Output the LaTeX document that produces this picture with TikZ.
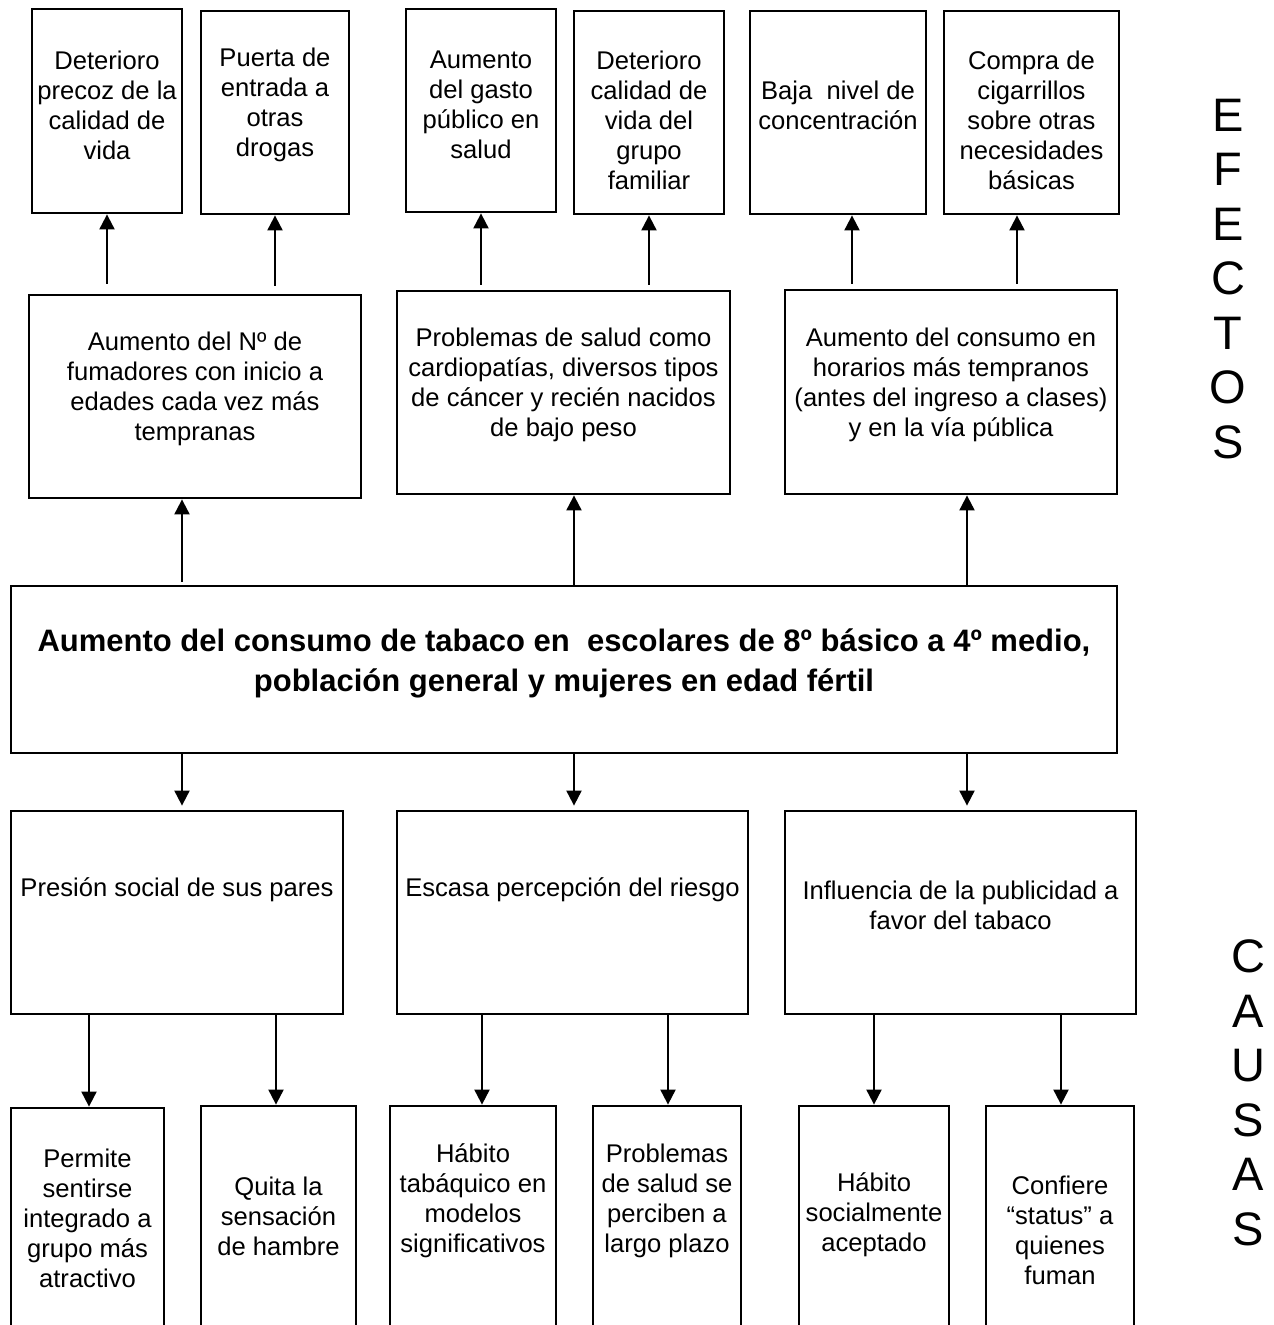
\documentclass[tikz,border=0pt]{standalone}
\usepackage{fontspec}
\setmainfont{Liberation Sans}
\usetikzlibrary{arrows.meta}
\newcommand\mybox[5]{\node[box, minimum width=#4pt, minimum height=#5pt] (#1) at (#2,#3) {};}
\begin{document}
\begin{tikzpicture}[x=1pt,y=-1pt,
  box/.style={draw, line width=2.8pt, inner sep=0pt},
  txt/.style={align=center, inner sep=0pt, font=\fontsize{25.6}{30}\selectfont},
  bigtxt/.style={align=center, inner sep=0pt, font=\bfseries\fontsize{31}{40}\selectfont},
  side/.style={align=center, inner sep=0pt, font=\fontsize{47}{54.5}\selectfont},
  arr/.style={line width=2pt, -{Triangle[length=15pt,width=15pt]}},
  ]
\useasboundingbox (0,0) rectangle (1274,1325);
\fill[white] (0,0) rectangle (1274,1325);
\clip (0,0) rectangle (1274,1325);

% top effects
\mybox{T1}{107}{111}{150}{204}
\mybox{T2}{275}{112.5}{148}{203}
\mybox{T3}{481}{110.5}{150}{203}
\mybox{T4}{649}{112.5}{150}{203}
\mybox{T5}{838}{112.5}{176}{203}
\mybox{T6}{1031.5}{112.5}{175}{203}
\node[txt] (T1t) at (107,105) {Deterioro\\precoz de la\\calidad de\\vida};
\node[txt] (T2t) at (275,105) {Puerta de\\entrada a\\otras\\drogas};
\node[txt] (T3t) at (481,105) {Aumento\\del gasto\\público en\\salud};
\node[txt] (T4t) at (649,120) {Deterioro\\calidad de\\vida del\\grupo\\familiar};
\node[txt] (T5t) at (838,105) {Baja\ \ nivel de\\concentración};
\node[txt] (T6t) at (1031.5,120) {Compra de\\cigarrillos\\sobre otras\\necesidades\\básicas};

% middle effects
\mybox{mA}{195}{396.5}{332}{203}
\mybox{mB}{563.5}{392.5}{333}{203}
\mybox{mC}{951}{392}{332}{204}
\node[txt] (mAt) at (195,389) {Aumento del Nº de\\fumadores con inicio a\\edades cada vez más\\tempranas};
\node[txt] (mBt) at (563.5,385) {Problemas de salud como\\cardiopatías, diversos tipos\\de cáncer y recién nacidos\\de bajo peso};
\node[txt] (mCt) at (951,385) {Aumento del consumo en\\horarios más tempranos\\(antes del ingreso a clases)\\y en la vía pública};

% central problem
\mybox{ctr}{564}{669.5}{1106}{167}
\node[bigtxt] (ctrt) at (564,663) {Aumento del consumo de tabaco en\ \ escolares de 8º básico a 4º medio,\\población general y mujeres en edad fértil};

% causes
\mybox{cA}{177}{912.5}{332}{203}
\mybox{cB}{572.5}{912.5}{351}{203}
\mybox{cC}{960.5}{912.5}{351}{203}
\node[txt] (cAt) at (177,890) {Presión social de sus pares};
\node[txt] (cBt) at (572.5,890) {Escasa percepción del riesgo};
\node[txt] (cCt) at (960.5,905) {Influencia de la publicidad a\\favor del tabaco};

% bottom causes
\mybox{b1}{87.5}{1254}{153}{292}
\mybox{b2}{278.5}{1253}{155}{294}
\mybox{b3}{473}{1253}{166}{294}
\mybox{b4}{667}{1253}{148}{294}
\mybox{b5}{874}{1253}{150}{294}
\mybox{b6}{1060}{1253}{148}{294}
\node[txt] (b1t) at (87.5,1218) {Permite\\sentirse\\integrado a\\grupo más\\atractivo};
\node[txt] (b2t) at (278.5,1216) {Quita la\\sensación\\de hambre};
\node[txt] (b3t) at (473,1201) {Hábito\\tabáquico en\\modelos\\significativos};
\node[txt] (b4t) at (667,1201) {Problemas\\de salud se\\perciben a\\largo plazo};
\node[txt] (b5t) at (874,1215) {Hábito\\socialmente\\aceptado};
\node[txt] (b6t) at (1060,1230) {Confiere\\“status” a\\quienes\\fuman};

% side labels
\node[side] (efectos) at (1228,279) {E\\F\\E\\C\\T\\O\\S};
\node[side] (causas) at (1248,1093) {C\\A\\U\\S\\A\\S};

% arrows: middle effects -> top effects
\draw[arr] ([yshift=10pt]mA.north -| 107,0) -- (T1.south -| 107,0);
\draw[arr] ([yshift=8pt]mA.north -| 275,0) -- (T2.south -| 275,0);
\draw[arr] ([yshift=5pt]mB.north -| 481,0) -- (T3.south -| 481,0);
\draw[arr] ([yshift=5pt]mB.north -| 649,0) -- (T4.south -| 649,0);
\draw[arr] ([yshift=5pt]mC.north -| 852,0) -- (T5.south -| 852,0);
\draw[arr] ([yshift=5pt]mC.north -| 1017,0) -- (T6.south -| 1017,0);

% central -> middle effects
\draw[arr] ([yshift=3pt]ctr.north -| 182,0) -- (mA.south -| 182,0);
\draw[arr] (ctr.north -| 574,0) -- (mB.south -| 574,0);
\draw[arr] (ctr.north -| 967,0) -- (mC.south -| 967,0);

% central -> causes
\draw[arr] (ctr.south -| 182,0) -- ([yshift=4pt]cA.north -| 182,0);
\draw[arr] (ctr.south -| 574,0) -- ([yshift=4pt]cB.north -| 574,0);
\draw[arr] (ctr.south -| 967,0) -- ([yshift=4pt]cC.north -| 967,0);

% causes -> bottom
\draw[arr] (cA.south -| 89,0) -- (b1.north -| 89,0);
\draw[arr] (cA.south -| 276,0) -- (b2.north -| 276,0);
\draw[arr] (cB.south -| 482,0) -- (b3.north -| 482,0);
\draw[arr] (cB.south -| 668,0) -- (b4.north -| 668,0);
\draw[arr] (cC.south -| 874,0) -- (b5.north -| 874,0);
\draw[arr] (cC.south -| 1061,0) -- (b6.north -| 1061,0);
\end{tikzpicture}
\end{document}
